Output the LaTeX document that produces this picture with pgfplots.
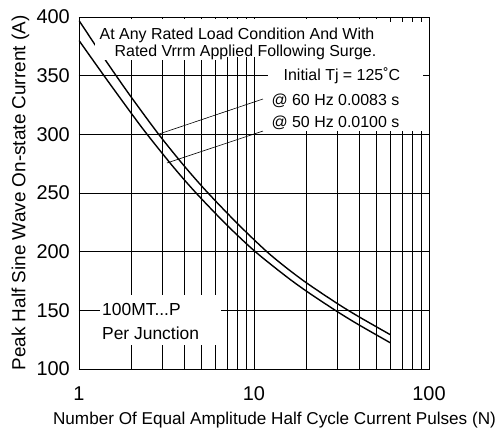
\documentclass[border=0pt]{standalone}
\usepackage{fontspec}
\setmainfont{Liberation Sans}
\usepackage{pgfplots}
\pgfplotsset{compat=1.18}
\begin{document}
\begin{tikzpicture}
\path[use as bounding box] (-79bp,-59bp) rectangle (419bp,369bp);
\begin{axis}[
  at={(0,0)}, anchor=south west,
  scale only axis, width=350bp, height=352bp,
  xmode=log, log basis x=10,
  xmin=1, xmax=100, ymin=100, ymax=400,
  xtick={1,10,100}, xticklabels={1,10,100},
  minor xtick={2,3,4,5,6,7,8,9,20,30,40,50,60,70,80,90},
  ytick={100,150,200,250,300,350,400},
  /pgf/number format/assume math mode=true,
  tick label style={font=\fontsize{20}{22}\selectfont},
  xticklabel style={anchor=base, yshift=-31bp},
  yticklabel style={anchor=east, inner sep=0pt, xshift=-9bp},
  xmajorgrids=true, xminorgrids=true, ymajorgrids=true,
  major grid style={black, line width=0.7pt},
  minor grid style={black, line width=0.7pt},
  major tick length=5bp, minor tick length=5bp,
  tick style={black, line width=0.7pt},
  axis line style={black, line width=1pt},
  tick pos=both,
  xlabel={Number Of Equal Amplitude Half Cycle Current Pulses (N)},
  ylabel={Peak Half Sine Wave On-state Current (A)},
  xlabel style={font=\fontsize{17.2}{19}\selectfont, at={([yshift=-55.3bp]axis description cs:0.5586,0)}, anchor=base, inner sep=0pt},
  ylabel style={font=\fontsize{19}{21}\selectfont, at={([xshift=-53.5bp]axis description cs:0,0.5)}, anchor=base, inner sep=0pt, rotate=0},
]
% 60 Hz 0.0083 s (upper)
\addplot[black, line width=1.4pt, smooth] coordinates {
(1,397) (1.3,371.4) (1.63,350) (2,331.2) (2.84,300.4) (4,272.9) (5.4,250.8) (8,224.3) (11.6,201.2) (15,187.3) (20,173.3) (30,155.7) (40,144.3) (60,129.3)
};
% 50 Hz 0.0100 s (lower)
\addplot[black, line width=1.4pt, smooth] coordinates {
(1,380) (1.4,349.3) (2,317.5) (2.48,299) (3.5,271.3) (4.7,249.5) (7,222.7) (10.1,200.4) (15,179.8) (20,166.2) (30,148.8) (40,137.4) (60,122.4)
};
% white backgrounds behind the notes
\fill[white] (axis cs:1.234,398.3) rectangle (axis cs:53.9,366);
\fill[white] (axis cs:1.234,366.5) rectangle (axis cs:6.6,363.2);
\fill[white] (axis cs:12.02,395.7) rectangle (axis cs:92.4,302.8);
\fill[white] (axis cs:1.318,163.1) rectangle (axis cs:6.48,120.5);
% leader lines
\draw[black, line width=0.6pt] (axis cs:11.25,330.1) -- (axis cs:2.83,300);
\draw[black, line width=0.6pt] (axis cs:11.25,302.8) -- (axis cs:3.18,275.6);
% notes
\node[anchor=base, inner sep=0pt, font=\fontsize{16}{18}\selectfont] at (axis cs:8.0,381) {At Any Rated Load Condition And With};
\node[anchor=base, inner sep=0pt, font=\fontsize{16}{18}\selectfont] at (axis cs:8.94,366.2) {Rated Vrrm Applied Following Surge.};
\node[anchor=base, inner sep=0pt, font=\fontsize{16}{18}\selectfont] at (axis cs:31.8,346.3) {Initial Tj = 125˚C};
\node[anchor=base, inner sep=0pt, font=\fontsize{16}{18}\selectfont] at (axis cs:29.2,324.2) {@ 60 Hz 0.0083 s};
\node[anchor=base, inner sep=0pt, font=\fontsize{16}{18}\selectfont] at (axis cs:29.2,305.7) {@ 50 Hz 0.0100 s};
\node[anchor=base west, inner sep=0pt, font=\fontsize{17.5}{19}\selectfont] at (axis cs:1.353,146) {100MT...P};
\node[anchor=base west, inner sep=0pt, font=\fontsize{17.5}{19}\selectfont] at (axis cs:1.353,124.8) {Per Junction};
\end{axis}
\end{tikzpicture}
\end{document}
